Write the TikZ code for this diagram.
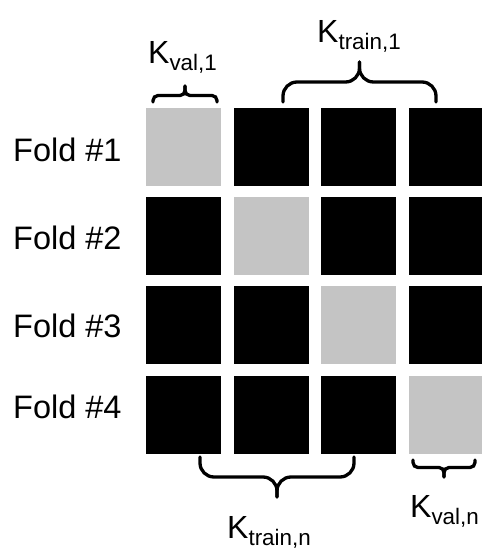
\documentclass[tikz,border=0pt]{standalone}
\usepackage{fontspec}
\setmainfont{Liberation Sans}
\definecolor{valgray}{RGB}{196,196,196}
\newcommand\kbrace[6]{%
  \pgfmathsetmacro\kbc{(#1+#2)/2}%
  \draw[bracestroke, rounded corners=#6] (#1,#3) -- (#1,#4) -- (\kbc,#4) -- (\kbc,#5);
  \draw[bracestroke, rounded corners=#6] (#2,#3) -- (#2,#4) -- (\kbc,#4) -- (\kbc,#5);
}
\newcommand\klab[2]{K\raisebox{-7pt}{\fontsize{22.4}{22.4}\selectfont #2}}
\begin{document}
\begin{tikzpicture}[x=1pt,y=-1pt,
  cell/.style={draw=none, minimum width=75pt, minimum height=78pt, inner sep=0pt, anchor=north west},
  trainbox/.style={cell, fill=black},
  valbox/.style={cell, fill=valgray},
  foldlbl/.style={anchor=base west, inner sep=0pt, font=\fontsize{32.5}{32.5}\selectfont},
  klbl/.style={anchor=base west, inner sep=0pt, font=\fontsize{32}{32}\selectfont},
  bracestroke/.style={line width=3.3pt, line cap=round}]
\useasboundingbox (0,0) rectangle (482,550);
% row 1
\node[valbox]   (r1c1) at (146,108) {};
\node[trainbox] (r1c2) at (233.5,108) {};
\node[trainbox] (r1c3) at (321,108) {};
\node[trainbox] (r1c4) at (408.5,108) {};
% row 2
\node[trainbox] (r2c1) at (146,197) {};
\node[valbox]   (r2c2) at (233.5,197) {};
\node[trainbox] (r2c3) at (321,197) {};
\node[trainbox] (r2c4) at (408.5,197) {};
% row 3
\node[trainbox] (r3c1) at (146,286) {};
\node[trainbox] (r3c2) at (233.5,286) {};
\node[valbox]   (r3c3) at (321,286) {};
\node[trainbox] (r3c4) at (408.5,286) {};
% row 4
\node[trainbox] (r4c1) at (146,376) {};
\node[trainbox] (r4c2) at (233.5,376) {};
\node[trainbox] (r4c3) at (321,376) {};
\node[valbox]   (r4c4) at (408.5,376) {};
% fold labels
\node[foldlbl] (f1) at (13,161) {Fold \#1};
\node[foldlbl] (f2) at (13,249) {Fold \#2};
\node[foldlbl] (f3) at (13,337) {Fold \#3};
\node[foldlbl] (f4) at (13,418) {Fold \#4};
% braces
\kbrace{153}{217}{102}{95.5}{86}{5}
\kbrace{283}{436}{102}{82}{62}{14}
\kbrace{200}{354}{457}{477}{497}{14}
\kbrace{413}{475}{460}{467.5}{477}{5}
% K labels
\node[klbl] (kv1) at (148,63) {\klab{}{val,1}};
\node[klbl] (kt1) at (317,42) {\klab{}{train,1}};
\node[klbl] (ktn) at (227,538) {\klab{}{train,n}};
\node[klbl] (kvn) at (410,517) {\klab{}{val,n}};
\end{tikzpicture}
\end{document}
